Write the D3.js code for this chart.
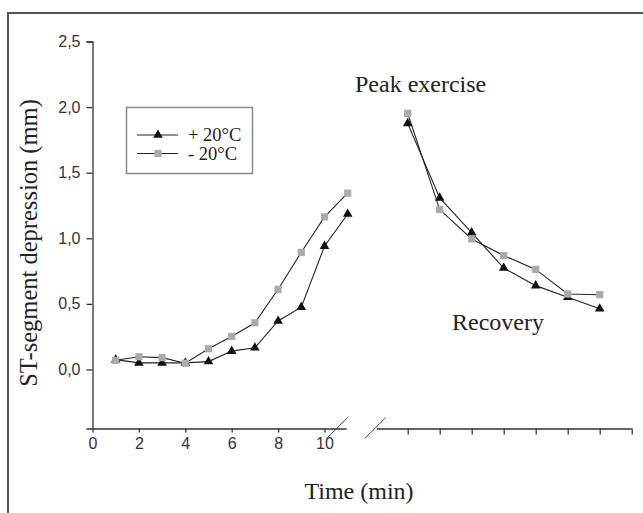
<!DOCTYPE html>
<html>
<head>
<meta charset="utf-8">
<script src="https://cdn.jsdelivr.net/npm/d3@7"></script>
<style>
  body { margin: 0; background: #fff; }
  .tick text { font-family: "Liberation Sans", Arial, sans-serif; font-size: 16px; fill: #333; }
</style>
</head>
<body>
<div class="container"></div>
<script>
// exercise phase (min) and values
var exTime = [1, 2, 3, 4, 5, 6, 7, 8, 9, 10, 11];
var exPlus = [0.075, 0.05, 0.05, 0.05, 0.06, 0.14, 0.165, 0.37, 0.475, 0.94, 1.185];
var exMinus = [0.07, 0.097, 0.09, 0.048, 0.158, 0.252, 0.356, 0.611, 0.893, 1.163, 1.344];

// recovery phase (tick index after the break)
var recStep = [1, 2, 3, 4, 5, 6, 7];
var recPlus = [1.876, 1.308, 1.043, 0.773, 0.639, 0.55, 0.463];
var recMinus = [1.952, 1.219, 0.995, 0.868, 0.763, 0.575, 0.57];

var yTicks = [0, 0.5, 1, 1.5, 2, 2.5];
var xTicks = [0, 2, 4, 6, 8, 10];
var recTicks = [1, 2, 3, 4, 5, 6, 7, 8];
var seriesNames = ['+ 20°C', '- 20°C'];

buildChart();

function buildChart() {

  /* ===== SET UP CHART =====*/

  var w = 643;
  var h = 513;

  var svg = d3.select('.container')
    .append('svg')
    .attr('width', w)
    .attr('height', h);

  // outer frame
  svg.append('rect')
    .attr('x', 8)
    .attr('y', 13)
    .attr('width', w + 10)
    .attr('height', h + 10)
    .attr('fill', 'none')
    .attr('stroke', '#555')
    .attr('stroke-width', 2);

  var yScale = d3.scaleLinear()
    .domain([-0.45, 2.5])
    .range([428.5, 41.5]);

  var xLeft = d3.scaleLinear()
    .domain([0, 11])
    .range([92.5, 347.7]);

  var xRight = d3.scaleLinear()
    .domain([0, 8])
    .range([375.7, 631.7]);

  var fmt = function(d) { return d3.format('.1f')(d).replace('.', ','); };

  /* ===== AXES =====*/

  var yAxis = svg.append('g')
    .attr('transform', 'translate(' + xLeft(0) + ',0)')
    .call(d3.axisLeft(yScale).tickValues(yTicks).tickFormat(fmt).tickSize(6).tickPadding(6));

  var xAxisL = svg.append('g')
    .attr('transform', 'translate(0,' + yScale(-0.45) + ')')
    .call(d3.axisBottom(xLeft).tickValues(xTicks).tickSize(4).tickPadding(5).tickSizeOuter(0));

  var xAxisR = svg.append('g')
    .attr('transform', 'translate(0,' + yScale(-0.45) + ')')
    .call(d3.axisBottom(xRight).tickValues(recTicks).tickFormat('').tickSize(6).tickSizeOuter(0));

  // trim right segment so it starts at the break
  xAxisR.select('.domain')
    .attr('d', 'M' + (xRight(0) + 1) + ',0.5H' + xRight(8));
  xAxisL.select('.domain')
    .attr('d', 'M' + xLeft(0) + ',0.5H' + (xLeft(11) - 1));

  [yAxis, xAxisL, xAxisR].forEach(function(g) {
    g.attr('font-size', null).attr('font-family', null);
    g.selectAll('.domain').attr('stroke', '#333').attr('stroke-width', 1.3);
    g.selectAll('line').attr('stroke', '#333').attr('stroke-width', 1.3);
  });

  // axis break slashes
  var by = yScale(-0.45);
  [xLeft(11) - 11, xRight(0) - 1].forEach(function(cx) {
    svg.append('line')
      .attr('x1', cx - 10).attr('y1', by + 10)
      .attr('x2', cx + 11).attr('y2', by - 11)
      .attr('stroke', '#444')
      .attr('stroke-width', 1);
  });

  /* ===== LINES & MARKERS =====*/

  var tri = d3.symbol().type(d3.symbolTriangle).size(40);
  var sq = d3.symbol().type(d3.symbolSquare).size(52);

  function drawSeries(xs, ys, xScale, symbolGen, fill) {
    var pts = xs.map(function(x, i) { return [xScale(x), yScale(ys[i])]; });
    svg.append('path')
      .attr('d', d3.line()(pts))
      .attr('fill', 'none')
      .attr('stroke', '#222')
      .attr('stroke-width', 1.1);
    svg.append('g').selectAll('path')
      .data(pts)
      .enter()
      .append('path')
      .attr('d', symbolGen)
      .attr('transform', function(d) { return 'translate(' + d[0] + ',' + d[1] + ')'; })
      .attr('fill', fill);
  }

  drawSeries(exTime, exPlus, xLeft, tri, '#111');
  drawSeries(exTime, exMinus, xLeft, sq, '#aaa');
  drawSeries(recStep, recPlus, xRight, tri, '#111');
  drawSeries(recStep, recMinus, xRight, sq, '#aaa');

  /* ===== TEXT =====*/

  var serif = 'Liberation Serif, Times New Roman, serif';

  svg.append('text')
    .attr('x', 355).attr('y', 92)
    .attr('font-family', serif).attr('font-size', '24px').attr('fill', '#222')
    .text('Peak exercise');

  svg.append('text')
    .attr('x', 452).attr('y', 330)
    .attr('font-family', serif).attr('font-size', '24px').attr('fill', '#222')
    .text('Recovery');

  svg.append('text')
    .attr('x', 359).attr('y', 499)
    .attr('text-anchor', 'middle')
    .attr('font-family', serif).attr('font-size', '24px').attr('fill', '#222')
    .text('Time (min)');

  svg.append('text')
    .attr('transform', 'translate(37,243) rotate(-90)')
    .attr('text-anchor', 'middle')
    .attr('font-family', serif).attr('font-size', '24.5px').attr('fill', '#222')
    .text('ST-segment depression (mm)');

  /* ===== LEGEND =====*/

  svg.append('rect')
    .attr('x', 126.5).attr('y', 107.5)
    .attr('width', 126).attr('height', 66)
    .attr('fill', 'none')
    .attr('stroke', '#888')
    .attr('stroke-width', 1.5);

  var legend = svg.selectAll('.legend')
    .data(seriesNames)
    .enter()
    .append('g')
    .attr('class', 'legend')
    .attr('transform', function(d, i) { return 'translate(0,' + (135 + i * 18.5) + ')'; });

  legend.append('line')
    .attr('x1', 137).attr('x2', 178)
    .attr('stroke', '#222').attr('stroke-width', 1.1);

  legend.append('path')
    .attr('d', function(d, i) { return i === 0 ? tri() : sq(); })
    .attr('transform', 'translate(158,0)')
    .attr('fill', function(d, i) { return i === 0 ? '#111' : '#aaa'; });

  legend.append('text')
    .attr('x', 188).attr('y', 6)
    .attr('font-family', serif).attr('font-size', '18.5px').attr('fill', '#222')
    .text(function(d) { return d; });
}
</script>
</body>
</html>
